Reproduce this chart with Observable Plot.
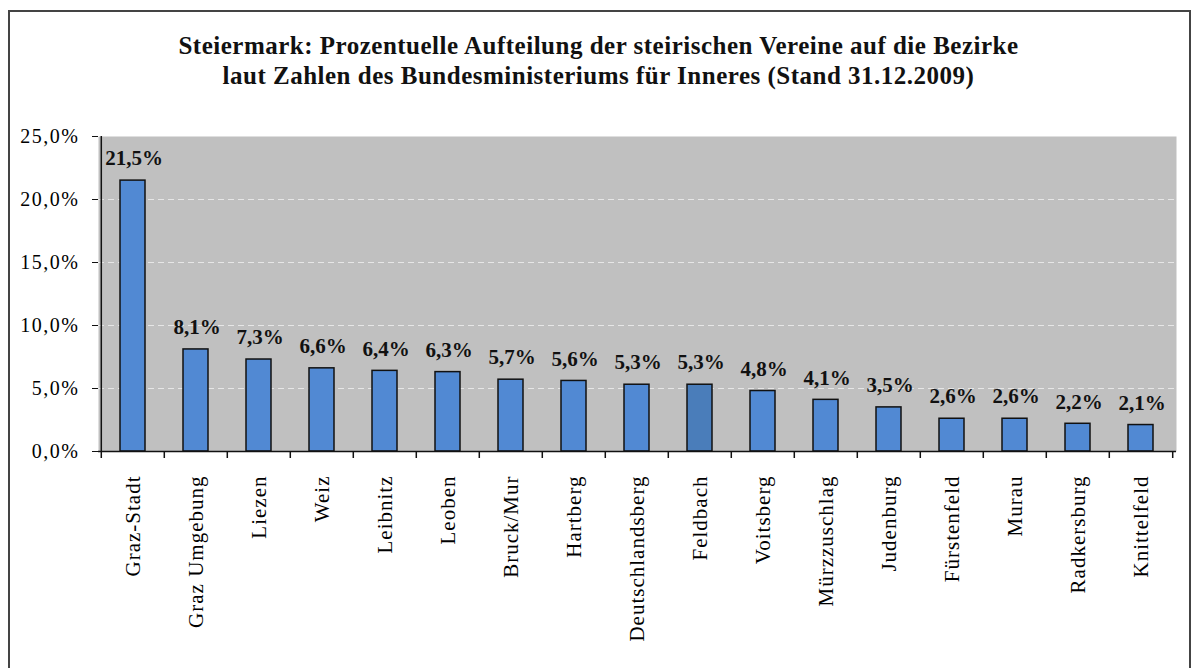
<!DOCTYPE html>
<html>
<head>
<meta charset="utf-8">
<script src="https://cdn.jsdelivr.net/npm/d3@7"></script>
<script src="https://cdn.jsdelivr.net/npm/@observablehq/plot@0.6"></script>
<style>
  html, body { margin: 0; padding: 0; background: #fff; }
  #wrap { position: relative; width: 1197px; height: 668px; overflow: hidden; }
  #border { position: absolute; left: 8px; top: 10px; width: 1183px; height: 700px; border: 2px solid #444; box-sizing: border-box; }
  #title { position: absolute; left: 0; top: 31px; width: 1197px; text-align: center;
           font-family: "Liberation Serif", serif; font-weight: bold; font-size: 25px; letter-spacing: 0.5px; line-height: 30px; color: #111; }
  #chart { position: absolute; left: 0; top: 110px; }
  #chart g[aria-label="y-axis tick label"] text { letter-spacing: 1.5px; }
  #chart g[aria-label="x-axis tick label"] text { letter-spacing: 1px; }
</style>
</head>
<body>
<div id="wrap">
  <div id="border"></div>
  <div id="title">Steiermark: Prozentuelle Aufteilung der steirischen Vereine auf die Bezirke<br>laut Zahlen des Bundesministeriums für Inneres (Stand 31.12.2009)</div>
  <div id="chart"></div>
</div>
<script>
const districts = ["Graz-Stadt","Graz Umgebung","Liezen","Weiz","Leibnitz","Leoben","Bruck/Mur","Hartberg","Deutschlandsberg","Feldbach","Voitsberg","Mürzzuschlag","Judenburg","Fürstenfeld","Murau","Radkersburg","Knittelfeld"];
const shares = [21.5, 8.1, 7.3, 6.6, 6.4, 6.3, 5.7, 5.6, 5.3, 5.3, 4.8, 4.1, 3.5, 2.6, 2.6, 2.2, 2.1];
const highlighted = ["Feldbach"];
const yTicks = [0, 5, 10, 15, 20, 25];
const gridTicks = [5, 10, 15, 20];

const data = districts.map((d, i) => ({district: d, share: shares[i]}));
const fmt = v => v.toFixed(1).replace(".", ",") + "%";

const width = 1197, height = 558;
const mL = 98, mR = 21, mT = 26, mB = 217;
const step = (width - mL - mR) / districts.length;

const chart = Plot.plot({
  width, height,
  marginLeft: mL, marginRight: mR, marginTop: mT, marginBottom: mB,
  style: {fontFamily: "'Liberation Serif', serif", fontSize: "18px", color: "#000", background: "transparent"},
  x: {domain: districts, paddingInner: 0.6, paddingOuter: 0.3, label: null},
  y: {domain: [0, 25], label: null},
  marks: [
    Plot.frame({fill: "#c0c0c0", stroke: null}),
    Plot.ruleY(gridTicks, {stroke: "#e6e6e6", strokeDasharray: "6,4", strokeWidth: 1}),
    Plot.barY(data, {x: "district", y: "share", fill: d => highlighted.includes(d.district) ? "#4a7dba" : "#5189d3", stroke: "#111", strokeWidth: 1.5}),
    Plot.text(data, {x: "district", y: "share", text: d => fmt(d.share), dy: -22, dx: 1, fontWeight: "bold", fontSize: 21, fill: "#111"}),
    Plot.ruleY([0], {stroke: "#111", strokeWidth: 1.5}),
    // left axis line
    Plot.ruleX(districts.slice(0, 1), {x: d => d, dx: -step / 2, stroke: "#111", strokeWidth: 1.5, insetBottom: -7}),
    // category boundary ticks
    Plot.ruleX(districts.slice(1), {x: d => d, dx: -step / 2, stroke: "#111", strokeWidth: 1.5, insetTop: height - mT - mB, insetBottom: -7}),
    Plot.ruleX(districts.slice(-1), {x: d => d, dx: step / 2, stroke: "#111", strokeWidth: 1.5, insetTop: height - mT - mB, insetBottom: -7}),
    Plot.axisY(yTicks, {tickFormat: fmt, tickSize: 6, tickPadding: 13, stroke: "#111", fontSize: 20}),
    Plot.axisX({tickSize: 0, tickRotate: -90, tickPadding: 24, fontSize: 21})
  ]
});
document.getElementById("chart").appendChild(chart);
</script>
</body>
</html>
